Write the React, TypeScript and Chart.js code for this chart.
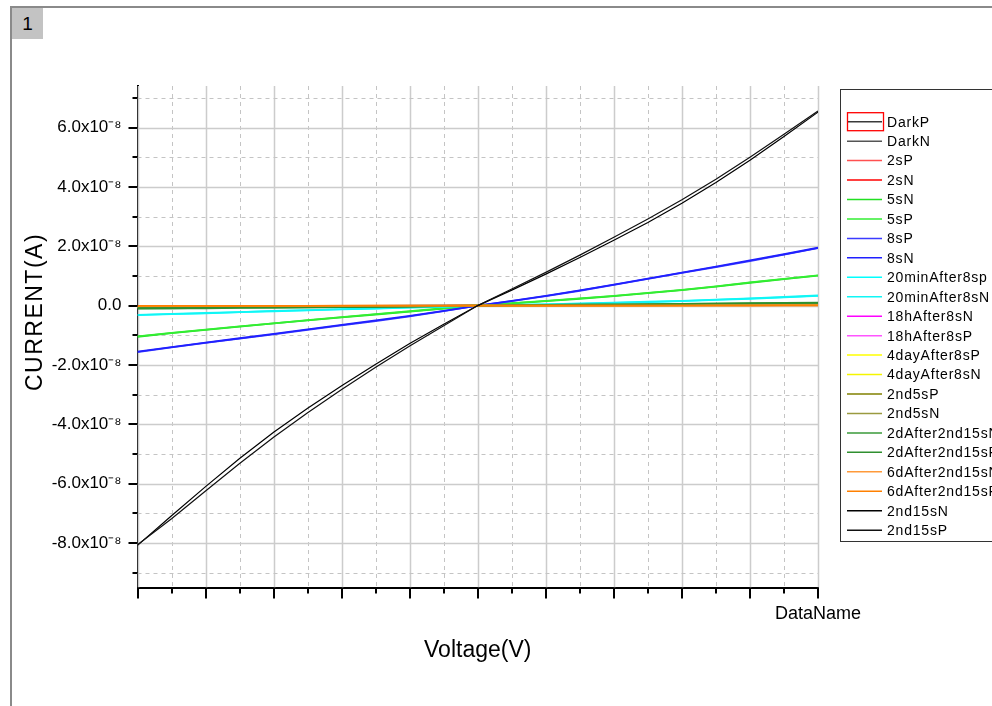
import React, { useEffect, useRef } from 'react';
import { Chart, registerables } from 'chart.js';

Chart.register(...registerables);

const FONT = '"Liberation Sans", Arial, sans-serif';
const UNIT = 1e-8;

// Voltage (V) sample points
const VOLTAGE = [-1.0, -0.9, -0.8, -0.7, -0.6, -0.5, -0.4, -0.3, -0.2, -0.1, 0, 0.1, 0.2, 0.3, 0.4, 0.5, 0.6, 0.7, 0.8, 0.9, 1.0];

// Current values in units of 1e-8 A
const DARK_P = [-0.03, -0.03, -0.03, -0.02, -0.02, -0.02, -0.01, -0.01, -0.01, 0, 0, 0, 0.01, 0.01, 0.01, 0.02, 0.02, 0.02, 0.03, 0.03, 0.03];
const DARK_N = [-0.03, -0.03, -0.02, -0.02, -0.02, -0.01, -0.01, -0.01, 0, 0, 0, 0, 0, 0.01, 0.01, 0.01, 0.02, 0.02, 0.02, 0.03, 0.03];
const S2_P = [-0.06, -0.05, -0.05, -0.04, -0.04, -0.03, -0.03, -0.02, -0.02, -0.01, 0, 0.01, 0.01, 0.02, 0.02, 0.03, 0.03, 0.04, 0.04, 0.05, 0.05];
const S2_N = [-0.05, -0.05, -0.04, -0.04, -0.03, -0.03, -0.02, -0.02, -0.01, -0.01, 0, 0.01, 0.01, 0.02, 0.02, 0.02, 0.03, 0.04, 0.05, 0.05, 0.06];
const S5_N = [-1.05, -0.93, -0.82, -0.71, -0.60, -0.50, -0.40, -0.30, -0.20, -0.10, 0, 0.07, 0.15, 0.23, 0.32, 0.42, 0.52, 0.64, 0.77, 0.89, 1.01];
const S5_P = [-1.04, -0.92, -0.81, -0.70, -0.60, -0.49, -0.39, -0.29, -0.19, -0.09, 0, 0.08, 0.16, 0.24, 0.33, 0.43, 0.53, 0.65, 0.78, 0.90, 1.02];
const S8_P = [-1.57, -1.41, -1.26, -1.11, -0.97, -0.82, -0.67, -0.52, -0.36, -0.19, 0, 0.15, 0.32, 0.50, 0.70, 0.90, 1.10, 1.30, 1.50, 1.72, 1.94];
const S8_N = [-1.55, -1.40, -1.25, -1.10, -0.95, -0.80, -0.65, -0.50, -0.35, -0.18, 0, 0.16, 0.33, 0.51, 0.71, 0.91, 1.11, 1.31, 1.52, 1.73, 1.95];
const MIN20_P = [-0.32, -0.29, -0.26, -0.22, -0.19, -0.16, -0.13, -0.10, -0.07, -0.04, 0, 0.02, 0.04, 0.06, 0.09, 0.12, 0.15, 0.19, 0.23, 0.28, 0.33];
const MIN20_N = [-0.31, -0.28, -0.25, -0.22, -0.18, -0.15, -0.12, -0.09, -0.06, -0.03, 0, 0.02, 0.04, 0.07, 0.10, 0.13, 0.16, 0.20, 0.24, 0.29, 0.34];
const H18_N = [-0.04, -0.04, -0.03, -0.03, -0.03, -0.02, -0.02, -0.02, -0.01, -0.01, 0, 0.01, 0.01, 0.01, 0.02, 0.02, 0.02, 0.03, 0.03, 0.04, 0.04];
const H18_P = [-0.04, -0.03, -0.03, -0.03, -0.02, -0.02, -0.02, -0.01, -0.01, -0.01, 0, 0, 0.01, 0.01, 0.01, 0.02, 0.02, 0.02, 0.03, 0.03, 0.04];
const D4_P = [-0.05, -0.05, -0.04, -0.04, -0.03, -0.03, -0.02, -0.02, -0.01, -0.01, 0, 0, 0.01, 0.01, 0.01, 0.02, 0.02, 0.02, 0.03, 0.03, 0.03];
const D4_N = [-0.05, -0.04, -0.04, -0.03, -0.03, -0.03, -0.02, -0.02, -0.01, -0.01, 0, 0, 0.01, 0.01, 0.01, 0.01, 0.02, 0.02, 0.02, 0.03, 0.03];
const S2ND5_P = [-0.07, -0.06, -0.06, -0.05, -0.05, -0.04, -0.03, -0.03, -0.02, -0.01, 0, 0.01, 0.01, 0.02, 0.02, 0.02, 0.03, 0.03, 0.03, 0.04, 0.04];
const S2ND5_N = [-0.06, -0.06, -0.05, -0.05, -0.04, -0.04, -0.03, -0.02, -0.02, -0.01, 0, 0.01, 0.01, 0.01, 0.02, 0.02, 0.03, 0.03, 0.04, 0.04, 0.04];
const D2_N = [-0.10, -0.09, -0.09, -0.08, -0.07, -0.06, -0.05, -0.04, -0.03, -0.02, 0, 0.01, 0.02, 0.03, 0.04, 0.05, 0.06, 0.07, 0.08, 0.09, 0.10];
const D2_P = [-0.09, -0.09, -0.08, -0.07, -0.07, -0.06, -0.05, -0.04, -0.03, -0.01, 0, 0.01, 0.02, 0.03, 0.03, 0.04, 0.05, 0.06, 0.07, 0.08, 0.09];
const D6_N = [-0.02, -0.02, -0.02, -0.01, -0.01, -0.01, -0.01, 0, 0, 0, 0, 0, 0, 0, 0, 0, 0, 0.01, 0.01, 0.01, 0.01];
const D6_P = [-0.01, -0.01, -0.01, -0.01, -0.01, -0.01, 0, 0, 0, 0, 0, 0, 0, 0, 0, 0, 0, 0, 0, 0.01, 0.01];
const S2ND15_N = [-8.08, -7.08, -6.10, -5.15, -4.27, -3.46, -2.70, -1.98, -1.28, -0.63, 0, 0.52, 1.06, 1.62, 2.20, 2.80, 3.45, 4.15, 4.90, 5.70, 6.52];
const S2ND15_P = [-8.06, -7.18, -6.25, -5.32, -4.44, -3.61, -2.83, -2.08, -1.36, -0.68, 0, 0.56, 1.12, 1.70, 2.30, 2.92, 3.57, 4.26, 5.00, 5.77, 6.56];

const SERIES_NAMES = [
  'DarkP', 'DarkN', '2sP', '2sN', '5sN', '5sP', '8sP', '8sN',
  '20minAfter8sp', '20minAfter8sN', '18hAfter8sN', '18hAfter8sP',
  '4dayAfter8sP', '4dayAfter8sN', '2nd5sP', '2nd5sN',
  '2dAfter2nd15sN', '2dAfter2nd15sP', '6dAfter2nd15sN', '6dAfter2nd15sP',
  '2nd15sN', '2nd15sP',
];
const SERIES_VALUES = [
  DARK_P, DARK_N, S2_P, S2_N, S5_N, S5_P, S8_P, S8_N,
  MIN20_P, MIN20_N, H18_N, H18_P, D4_P, D4_N, S2ND5_P, S2ND5_N,
  D2_N, D2_P, D6_N, D6_P, S2ND15_N, S2ND15_P,
];
const SERIES_COLORS = [
  '#3a3a3a', '#555555', '#ff5050', '#ff0000', '#22e022', '#33ee33', '#3b3bff', '#2020ff',
  '#00ffff', '#11f5f5', '#ff00ff', '#ff55ff', '#ffff00', '#f5f500', '#808000', '#9a9a40',
  '#3a9a3a', '#2f8f2f', '#ff9a3a', '#ff8000', '#000000', '#111111',
];

const Y_TICK_VALUES = [-8e-8, -6e-8, -4e-8, -2e-8, 0, 2e-8, 4e-8, 6e-8];
const Y_TICK_LABELS = ['-8.0x10⁻⁸', '-6.0x10⁻⁸', '-4.0x10⁻⁸', '-2.0x10⁻⁸', '0.0', '2.0x10⁻⁸', '4.0x10⁻⁸', '6.0x10⁻⁸'];
const X_TICK_VALUES = [-1, -0.8, -0.6, -0.4, -0.2, 0, 0.2, 0.4, 0.6, 0.8, 1];
const X_TICK_LABELS = ['', '', '', '', '', '', '', '', '', '', 'DataName'];

const Y_MIN = -9.5e-8;
const Y_MAX = 7.4e-8;
const Y_MINOR_STEP = 1e-8;
const X_MINOR_STEP = 0.1;

const W = 992;
const H = 706;

const gridPlugin = {
  id: 'originGrid',
  beforeDatasetsDraw(chart: any) {
    const { ctx, chartArea: a, scales } = chart;
    const x = scales.x;
    const y = scales.y;
    ctx.save();
    const nx = Math.round((x.max - x.min) / X_MINOR_STEP);
    for (let k = 0; k <= nx; k++) {
      const px = Math.round(x.getPixelForValue(x.min + k * X_MINOR_STEP)) + 0.5;
      ctx.beginPath();
      if (k % 2 === 0) {
        ctx.setLineDash([]);
        ctx.strokeStyle = '#cccccc';
        ctx.lineWidth = 1.5;
      } else {
        ctx.setLineDash([4, 4]);
        ctx.strokeStyle = '#c4c4c4';
        ctx.lineWidth = 1;
      }
      ctx.moveTo(px, a.top);
      ctx.lineTo(px, a.bottom);
      ctx.stroke();
    }
    const nLo = Math.ceil(Y_MIN / Y_MINOR_STEP - 1e-6);
    const nHi = Math.floor(Y_MAX / Y_MINOR_STEP + 1e-6);
    for (let n = nLo; n <= nHi; n++) {
      const py = Math.round(y.getPixelForValue(n * Y_MINOR_STEP)) + 0.5;
      ctx.beginPath();
      if (n % 2 === 0) {
        ctx.setLineDash([]);
        ctx.strokeStyle = '#cccccc';
        ctx.lineWidth = 1.5;
      } else {
        ctx.setLineDash([4, 4]);
        ctx.strokeStyle = '#c4c4c4';
        ctx.lineWidth = 1;
      }
      ctx.moveTo(a.left, py);
      ctx.lineTo(a.right, py);
      ctx.stroke();
    }
    ctx.restore();
  },
  afterDraw(chart: any) {
    const { ctx, chartArea: a, scales } = chart;
    const x = scales.x;
    const y = scales.y;
    ctx.save();
    ctx.strokeStyle = '#000';
    // tick marks
    const nx = Math.round((x.max - x.min) / X_MINOR_STEP);
    for (let k = 0; k <= nx; k++) {
      const px = Math.round(x.getPixelForValue(x.min + k * X_MINOR_STEP));
      const len = k % 2 === 0 ? 10 : 5;
      ctx.lineWidth = 2;
      ctx.beginPath();
      ctx.moveTo(px, a.bottom);
      ctx.lineTo(px, a.bottom + len + 1);
      ctx.stroke();
    }
    const nLo = Math.ceil(Y_MIN / Y_MINOR_STEP - 1e-6);
    const nHi = Math.floor(Y_MAX / Y_MINOR_STEP + 1e-6);
    for (let n = nLo; n <= nHi; n++) {
      const py = Math.round(y.getPixelForValue(n * Y_MINOR_STEP));
      const len = n % 2 === 0 ? 8 : 4;
      ctx.lineWidth = 2;
      ctx.beginPath();
      ctx.moveTo(a.left - len - 1, py);
      ctx.lineTo(a.left, py);
      ctx.stroke();
    }
    // y axis title
    ctx.fillStyle = '#000';
    ctx.font = `23px ${FONT}`;
    (ctx as any).letterSpacing = '1.5px';
    ctx.textAlign = 'center';
    ctx.textBaseline = 'middle';
    ctx.translate(36, 312);
    ctx.rotate(-Math.PI / 2);
    ctx.fillText('CURRENT(A)', 0, 0);
    ctx.restore();

    // legend
    ctx.save();
    ctx.strokeStyle = '#333';
    ctx.lineWidth = 1;
    ctx.strokeRect(840.5, 89.5, 220, 452);
    ctx.font = `14px ${FONT}`;
    (ctx as any).letterSpacing = '0.8px';
    ctx.textAlign = 'left';
    ctx.textBaseline = 'middle';
    chart.data.datasets.forEach((ds: any, i: number) => {
      const ly = 121.7 + i * 19.45;
      ctx.strokeStyle = ds.borderColor;
      ctx.lineWidth = 1.5;
      ctx.beginPath();
      ctx.moveTo(847, ly);
      ctx.lineTo(882, ly);
      ctx.stroke();
      if (i === 0) {
        ctx.strokeStyle = '#ff0000';
        ctx.lineWidth = 1.3;
        ctx.strokeRect(847.5, ly - 9, 36, 18);
      }
      ctx.fillStyle = '#000';
      ctx.fillText(ds.label, 887, ly + 1);
    });
    ctx.restore();
  },
};

export default function App() {
  const canvasRef = useRef<HTMLCanvasElement | null>(null);

  useEffect(() => {
    const canvas = canvasRef.current;
    if (!canvas) return;
    Chart.defaults.font.family = FONT;
    const datasets = SERIES_NAMES.map((name, i) => ({
      label: name,
      data: VOLTAGE.map((v, j) => ({ x: v, y: SERIES_VALUES[i][j] * UNIT })),
      borderColor: SERIES_COLORS[i],
      backgroundColor: SERIES_COLORS[i],
      borderWidth: i >= 20 ? 1.2 : 1.8,
      pointRadius: 0,
      fill: false,
      tension: 0,
      order: SERIES_NAMES.length - i,
    }));
    const chart = new Chart(canvas, {
      type: 'line',
      data: { datasets },
      options: {
        responsive: false,
        animation: false,
        events: [],
        layout: { padding: { left: 0, right: W - 818, top: 86, bottom: 42 } },
        plugins: { legend: { display: false }, tooltip: { enabled: false }, title: { display: false } },
        scales: {
          x: {
            type: 'linear',
            min: -1,
            max: 1,
            afterBuildTicks: (s: any) => {
              s.ticks = X_TICK_VALUES.map((v) => ({ value: v }));
            },
            afterFit: (s: any) => {
              s.height = H - 42 - 587.5;
            },
            grid: { display: false, drawTicks: false },
            border: { display: true, color: '#000', width: 2 },
            ticks: {
              autoSkip: false,
              maxRotation: 0,
              minRotation: 0,
              padding: 16,
              color: '#000',
              font: { size: 18, family: FONT },
              callback: (_v: any, i: number) => X_TICK_LABELS[i],
            },
            title: {
              display: true,
              text: 'Voltage(V)',
              color: '#000',
              font: { size: 23, family: FONT },
              padding: { top: 0, bottom: 0 },
            },
          },
          y: {
            type: 'linear',
            min: Y_MIN,
            max: Y_MAX,
            afterBuildTicks: (s: any) => {
              s.ticks = Y_TICK_VALUES.map((v) => ({ value: v }));
            },
            afterFit: (s: any) => {
              s.width = 137.5;
            },
            grid: { display: false, drawTicks: false },
            border: { display: true, color: '#000', width: 2 },
            ticks: {
              padding: 16,
              color: '#000',
              font: { size: 17, family: FONT },
              callback: (_v: any, i: number) => Y_TICK_LABELS[i],
            },
            title: { display: false },
          },
        },
      },
      plugins: [gridPlugin],
    } as any);
    return () => chart.destroy();
  }, []);

  return (
    <div style={{ position: 'absolute', left: 0, top: 0, width: W, height: H, overflow: 'hidden', background: '#fff' }}>
      <div
        style={{
          position: 'absolute',
          left: 10,
          top: 6,
          width: W + 20,
          height: H + 20,
          borderLeft: '2px solid #8a8a8a',
          borderTop: '2px solid #8a8a8a',
        }}
      />
      <div
        style={{
          position: 'absolute',
          left: 12,
          top: 8,
          width: 31,
          height: 31,
          background: '#c3c3c3',
          color: '#000',
          font: `19px ${FONT}`,
          display: 'flex',
          alignItems: 'center',
          justifyContent: 'center',
        }}
      >
        1
      </div>
      <canvas ref={canvasRef} width={W} height={H} style={{ position: 'absolute', left: 0, top: 0, width: W, height: H }} />
    </div>
  );
}
